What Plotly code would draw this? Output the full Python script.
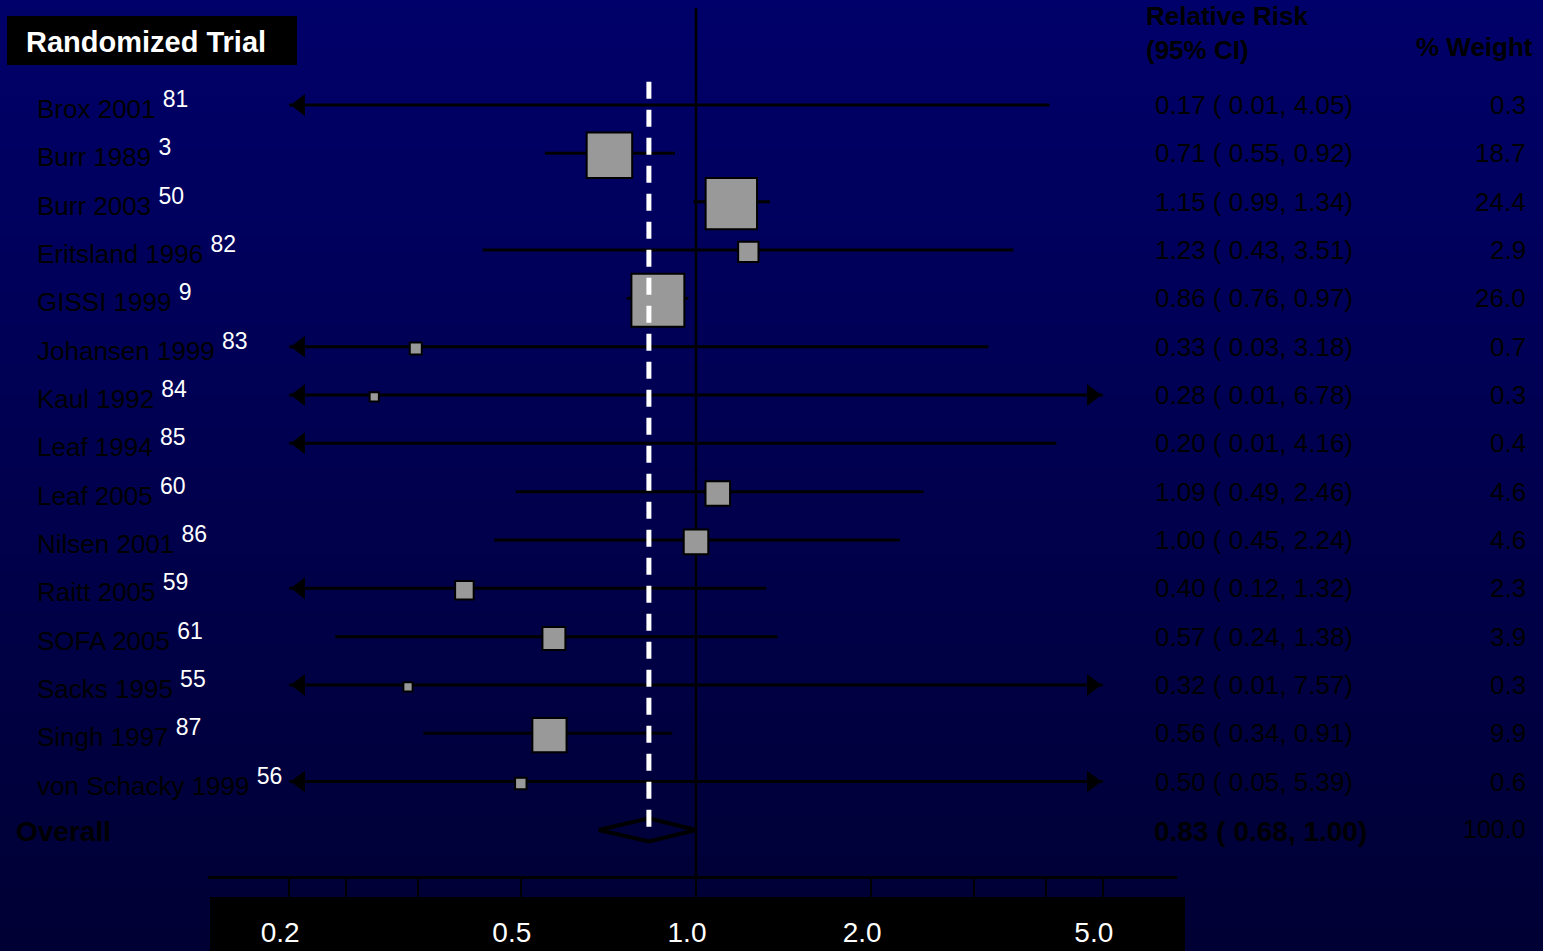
import math
import plotly.graph_objects as go

# ---------------- data ----------------
studies = ["Brox 2001", "Burr 1989", "Burr 2003", "Eritsland 1996", "GISSI 1999",
           "Johansen 1999", "Kaul 1992", "Leaf 1994", "Leaf 2005", "Nilsen 2001",
           "Raitt 2005", "SOFA 2005", "Sacks 1995", "Singh 1997", "von Schacky 1999"]
refs = [81, 3, 50, 82, 9, 83, 84, 85, 60, 86, 59, 61, 55, 87, 56]
rr = [0.17, 0.71, 1.15, 1.23, 0.86, 0.33, 0.28, 0.20, 1.09, 1.00, 0.40, 0.57, 0.32, 0.56, 0.50]
lo = [0.01, 0.55, 0.99, 0.43, 0.76, 0.03, 0.01, 0.01, 0.49, 0.45, 0.12, 0.24, 0.01, 0.34, 0.05]
hi = [4.05, 0.92, 1.34, 3.51, 0.97, 3.18, 6.78, 4.16, 2.46, 2.24, 1.32, 1.38, 7.57, 0.91, 5.39]
weight = [0.3, 18.7, 24.4, 2.9, 26.0, 0.7, 0.3, 0.4, 4.6, 4.6, 2.3, 3.9, 0.3, 9.9, 0.6]
overall_label = "Overall"
overall_rr, overall_lo, overall_hi, overall_weight = 0.83, 0.68, 1.00, 100.0
tick_vals = [0.2, 0.25, 1 / 3, 0.5, 1.0, 2.0, 3.0, 4.0, 5.0]
tick_text = ["0.2", "", "", "0.5", "1.0", "2.0", "", "", "5.0"]
clip_lo, clip_hi = 0.2, 5.0

# ---------------- geometry helpers ----------------
W, H = 1543, 951
FONT = "Liberation Sans, Arial, sans-serif"


def px(x):
    return x / W


def py(y):
    return 1 - y / H


ROW0, ROWSTEP = 105.0, 48.33
AXIS_Y = 876.0
PX_PER_DEC = 582.0
X_ONE = 696.0
x_left, x_right = 208.0, 1177.0

n = len(studies)
rows = list(range(n))
overall_row = n

fig = go.Figure()

# background gradient
shapes = []
NB = 120
top_c, bot_c = (0, 0, 106), (0, 0, 52)
for k in range(NB):
    t = (k + 0.5) / NB
    c = tuple(round(top_c[j] + (bot_c[j] - top_c[j]) * t) for j in range(3))
    shapes.append(dict(type="rect", xref="paper", yref="paper", x0=0, x1=1,
                       y0=1 - (k + 1) / NB - 0.001, y1=1 - k / NB,
                       fillcolor=f"rgb{c}", line=dict(width=0), layer="below"))

# title box and tick-label box
shapes.append(dict(type="rect", xref="paper", yref="paper", x0=px(7), x1=px(297),
                   y0=py(65), y1=py(16), fillcolor="black", line=dict(width=0), layer="below"))
shapes.append(dict(type="rect", xref="paper", yref="paper", x0=px(210), x1=px(1185),
                   y0=0, y1=py(897), fillcolor="black", line=dict(width=0), layer="below"))

# line of no effect
shapes.append(dict(type="line", xref="x", yref="paper", x0=1, x1=1, y0=py(AXIS_Y), y1=py(8),
                   line=dict(color="black", width=2.5), layer="below"))

# CI lines
cx, cy = [], []
for i in rows:
    cx += [max(lo[i], clip_lo), min(hi[i], clip_hi), None]
    cy += [i, i, None]
fig.add_trace(go.Scatter(x=cx, y=cy, mode="lines", line=dict(color="black", width=3),
                         hoverinfo="skip", showlegend=False))

# arrows for clipped CIs
tri_size = 19
tip = (tri_size / 2) * 2 / math.sqrt(3)
off = 10 ** (tip / PX_PER_DEC)
lx = [clip_lo * off for i in rows if lo[i] < clip_lo]
ly = [i for i in rows if lo[i] < clip_lo]
rx = [clip_hi / off for i in rows if hi[i] > clip_hi]
ry = [i for i in rows if hi[i] > clip_hi]
fig.add_trace(go.Scatter(x=lx, y=ly, mode="markers",
                         marker=dict(symbol="triangle-left", size=tri_size, color="black",
                                     opacity=1, line=dict(width=0)),
                         hoverinfo="skip", showlegend=False))
fig.add_trace(go.Scatter(x=rx, y=ry, mode="markers",
                         marker=dict(symbol="triangle-right", size=tri_size, color="black",
                                     opacity=1, line=dict(width=0)),
                         hoverinfo="skip", showlegend=False))

# squares (only when point estimate inside the plotted range)
vis = [i for i in rows if clip_lo < rr[i] < clip_hi]
fig.add_trace(go.Scatter(x=[rr[i] for i in vis], y=[i + 0.04 for i in vis], mode="markers",
                         marker=dict(symbol="square", size=[9.6 * math.sqrt(weight[i]) + 4 for i in vis],
                                     color="#999999", opacity=1, line=dict(color="black", width=2)),
                         hoverinfo="skip", showlegend=False))

# pooled estimate line (dashed white) - drawn above markers
shapes.append(dict(type="line", xref="x", yref="y", x0=overall_rr, x1=overall_rr,
                   y0=-0.48, y1=overall_row - 0.05,
                   line=dict(color="white", width=5, dash="17px,11px"), layer="above"))

# diamond
dh = 0.24
fig.add_trace(go.Scatter(x=[overall_lo, overall_rr, overall_hi, overall_rr, overall_lo],
                         y=[overall_row, overall_row - dh, overall_row, overall_row + dh, overall_row],
                         mode="lines", line=dict(color="black", width=4),
                         hoverinfo="skip", showlegend=False))

# ---------------- text ----------------
ann = []
for i in rows:
    ann.append(dict(xref="paper", yref="y", x=px(35), y=i, xanchor="left", yanchor="middle",
                    yshift=0, showarrow=False,
                    text=f"{studies[i]} <sup><span style='color:white;font-size:23px'>{refs[i]}</span></sup>",
                    font=dict(family=FONT, size=26, color="black")))
    ann.append(dict(xref="paper", yref="y", x=px(1153), y=i, xanchor="left", yanchor="middle",
                    yshift=0, showarrow=False,
                    text=f"{rr[i]:.2f} ( {lo[i]:.2f}, {hi[i]:.2f})",
                    font=dict(family=FONT, size=26, color="black")))
    ann.append(dict(xref="paper", yref="y", x=px(1528), y=i, xanchor="right", yanchor="middle",
                    yshift=0, showarrow=False, text=f"{weight[i]:.1f}",
                    font=dict(family=FONT, size=26, color="black")))

ann.append(dict(xref="paper", yref="y", x=px(14), y=overall_row, xanchor="left", yanchor="middle",
                yshift=-2, showarrow=False, text=f"<b>{overall_label}</b>",
                font=dict(family=FONT, size=28, color="black")))
ann.append(dict(xref="paper", yref="y", x=px(1152), y=overall_row, xanchor="left", yanchor="middle",
                yshift=-2, showarrow=False,
                text=f"<b>{overall_rr:.2f} ( {overall_lo:.2f}, {overall_hi:.2f})</b>",
                font=dict(family=FONT, size=28, color="black")))
ann.append(dict(xref="paper", yref="y", x=px(1528), y=overall_row, xanchor="right", yanchor="middle",
                yshift=1, showarrow=False, text=f"{overall_weight:.1f}",
                font=dict(family=FONT, size=25, color="black")))

# headers
ann.append(dict(xref="paper", yref="paper", x=px(1144), y=py(33), xanchor="left", yanchor="middle",
                showarrow=False, align="left", text="<b>Relative Risk<br>(95% CI)</b>",
                font=dict(family=FONT, size=26, color="black")))
ann.append(dict(xref="paper", yref="paper", x=px(1535), y=py(47), xanchor="right", yanchor="middle",
                showarrow=False, text="<b>% Weight</b>",
                font=dict(family=FONT, size=26, color="black")))
# title
ann.append(dict(xref="paper", yref="paper", x=px(24), y=py(42), xanchor="left", yanchor="middle",
                showarrow=False, text="<b>Randomized Trial</b>",
                font=dict(family=FONT, size=29, color="white")))

y_top = -ROW0 / ROWSTEP
y_bot = (AXIS_Y - ROW0) / ROWSTEP

fig.update_layout(
    width=W, height=H, margin=dict(l=0, r=0, t=0, b=0),
    paper_bgcolor="rgb(0,0,52)", plot_bgcolor="rgba(0,0,0,0)",
    shapes=shapes, annotations=ann, showlegend=False,
    xaxis=dict(type="log", domain=[px(x_left), px(x_right)],
               range=[(x_left - X_ONE) / PX_PER_DEC, (x_right - X_ONE) / PX_PER_DEC],
               tickvals=tick_vals, ticktext=tick_text, ticks="outside", ticklen=21,
               tickwidth=2, tickcolor="black", showline=True, linecolor="black", linewidth=2.5,
               showgrid=False, zeroline=False, ticklabelstandoff=9, ticklabelshift=-9,
               tickfont=dict(family=FONT, size=28, color="white"), fixedrange=True),
    yaxis=dict(domain=[1 - AXIS_Y / H, 1], range=[y_bot, y_top], visible=False,
               showgrid=False, zeroline=False, fixedrange=True),
)

fig.write_html(
    "out.html",
    config={"displayModeBar": False},
    post_script="document.body.style.margin='0';document.body.style.overflow='hidden';",
)
